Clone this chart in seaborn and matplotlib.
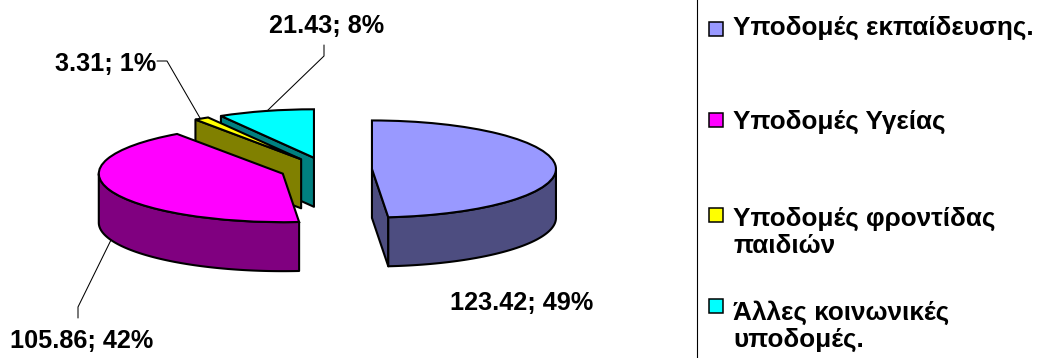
import numpy as np
import matplotlib
matplotlib.use("Agg")
import matplotlib.pyplot as plt
from matplotlib.patches import Polygon, Rectangle
from matplotlib.lines import Line2D
import seaborn as sns

categories = ["Υποδομές εκπαίδευσης.", "Υποδομές Υγείας",
              "Υποδομές φροντίδας\nπαιδιών", "Άλλες κοινωνικές\nυποδομές."]
values = [123.42, 105.86, 3.31, 21.43]
percents = [49, 42, 1, 8]
top_colors = ["#9999FF", "#FF00FF", "#FFFF00", "#00FFFF"]
side_colors = ["#4D4D80", "#800080", "#808000", "#008080"]

sns.set_theme(style="white")
plt.rcParams["font.family"] = ["Liberation Sans", "DejaVu Sans"]

W, H = 1040, 358
CX, CY, RX, RY, DEPTH_PX = 326.0, 169.5, 184.0, 48.5, 49.0
EXPLODE = 0.25
EDGE = 1.5

fig = plt.figure(figsize=(W / 100, H / 100), dpi=100, facecolor="white")
ax = fig.add_axes([0, 0, 1, 1])
palette = sns.color_palette(top_colors)

wedges, _ = ax.pie(values, colors=palette, startangle=90, counterclock=False,
                   explode=[EXPLODE] * len(values), radius=1.0,
                   wedgeprops=dict(edgecolor="black", linewidth=EDGE), frame=True)
ax.set_aspect("auto")
ax.set_xlim((0 - CX) / RX, (W - CX) / RX)
ax.set_ylim((CY - H) / RY, (CY - 0) / RY)
ax.axis("off")


def px(x, y):
    return (x - CX) / RX, (CY - y) / RY


depth = DEPTH_PX / RY
total = sum(values)
fracs = np.array(values) / total
stops = np.concatenate([[0], np.cumsum(fracs)]) * 2 * np.pi
paint_order = [3, 2, 1, 0]
base = 5

for rank, i in enumerate(paint_order):
    a, b = stops[i], stops[i + 1]
    mid = (a + b) / 2
    ox, oy = EXPLODE * np.sin(mid), EXPLODE * np.cos(mid)
    z = base + rank * 3
    walls = []
    # radial wall on the slice's start edge, seen when it faces the viewer
    if np.sin(a) < -1e-6:
        walls.append([(ox, oy), (ox + np.sin(a), oy + np.cos(a))])
    if np.sin(b) > 1e-6:
        walls.append([(ox, oy), (ox + np.sin(b), oy + np.cos(b))])
    lo, hi = max(a, np.pi / 2), min(b, 3 * np.pi / 2)
    if hi > lo:
        t = np.linspace(lo, hi, 120)
        walls.append(list(zip(ox + np.sin(t), oy + np.cos(t))))
    for w in walls:
        w = np.array(w)
        low = w - [0, depth]
        ax.add_patch(Polygon(np.vstack([w, low[::-1]]), closed=True,
                             facecolor=side_colors[i], edgecolor="black",
                             linewidth=EDGE, zorder=z, joinstyle="round"))
    wedges[i].set_zorder(z + 1)

# data labels and leader lines
labels = [f"{v:.2f}; {p}%" for v, p in zip(values, percents)]
label_pos = [(521.5, 302.5), (81.5, 341.5), (106, 63.5), (327, 25.5)]
for s, (x, y) in zip(labels, label_pos):
    ax.text(*px(x, y), s, fontsize=18.2, fontweight="bold", color="black",
            ha="center", va="center", zorder=30)

leaders = [
    [(111, 240), (78, 307), (78, 318)],
    [(157, 61), (167, 61), (200, 118)],
    [(324, 45), (324, 56), (267, 111)],
]
for pts in leaders:
    xs, ys = zip(*[px(*p) for p in pts])
    ax.add_line(Line2D(xs, ys, color="black", lw=0.75, zorder=20))

# legend panel
ax.add_line(Line2D(*zip(*[px(697, -2), px(697, H + 2)]), color="black", lw=0.8, zorder=20))
swatch_y = [29, 120, 214.5, 306]
text_baseline = [35, 129, 253, 347]
for cat, col, y, by in zip(categories, top_colors, swatch_y, text_baseline):
    x0, y0 = px(709, y - 7)
    x1, y1 = px(723, y + 7)
    ax.add_patch(Rectangle((x0, y1), x1 - x0, y0 - y1, facecolor=col,
                           edgecolor="black", linewidth=1.1, zorder=20))
    ax.text(*px(733, by), cat, fontsize=18.8, fontweight="bold", color="black",
            ha="left", va="baseline", linespacing=1.18, zorder=20)

fig.savefig("out.png", dpi=100, facecolor="white")
